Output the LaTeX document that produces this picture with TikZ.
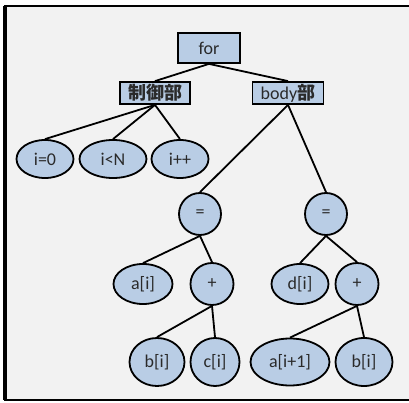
\documentclass[tikz,border=0pt]{standalone}
\usepackage{fontspec}
\setmainfont{Carlito}
\newfontfamily\cjk{Noto Sans CJK JP}
\usetikzlibrary{shapes.geometric}
\definecolor{panel}{HTML}{F2F2F2}
\definecolor{nodefill}{HTML}{B9CDE5}
\definecolor{ink}{HTML}{2A2A2A}
\tikzset{
  treebox/.style={draw=black, line width=1.8pt, fill=nodefill, text=ink,
    rectangle, inner sep=0pt, font=\fontsize{18}{20}\selectfont},
  treeoval/.style={draw=black, line width=1.8pt, fill=nodefill, text=ink,
    ellipse, inner sep=0pt, font=\fontsize{18}{20}\selectfont},
  branch/.style={draw=black, line width=1.8pt}
}
\begin{document}
\begin{tikzpicture}[x=1pt, y=-1pt]
  \useasboundingbox (0,0) rectangle (409,403);
  \fill[white] (0,0) rectangle (409,403);
  % framed panel, running off the right edge
  \begin{scope}
    \clip (0,0) rectangle (409,403);
    \filldraw[fill=panel, draw=black, line width=2.5pt] (5,6) rectangle (420,400);
    \draw[line width=4pt] (5,6) -- (5,400);
  \end{scope}

  % tree nodes
  \node[treebox, minimum width=62, minimum height=30] (for) at (209,48) {for};
  \node[treebox, minimum width=70, minimum height=22] (ctrl) at (155,93) {\cjk\bfseries 制御部};
  \node[treebox, minimum width=71, minimum height=22] (body) at (288,93) {body{\cjk\bfseries 部}};

  \node[treeoval, minimum width=57, minimum height=38] (init) at (45,159) {i=0};
  \node[treeoval, minimum width=67, minimum height=38] (cond) at (113,159) {i<N};
  \node[treeoval, minimum width=57, minimum height=38] (incr) at (180,159) {i++};

  \node[treeoval, minimum width=42, minimum height=42] (eqL) at (200,214) {=};
  \node[treeoval, minimum width=42, minimum height=42] (eqR) at (326,214) {=};

  \node[treeoval, minimum width=59, minimum height=40] (ai) at (143,284) {a[i]};
  \node[treeoval, minimum width=43, minimum height=42] (plusL) at (212,284) {+};
  \node[treeoval, minimum width=57, minimum height=40] (di) at (300,284) {d[i]};
  \node[treeoval, minimum width=43, minimum height=42] (plusR) at (357,284) {+};

  \node[treeoval, minimum width=55, minimum height=48] (biL) at (157,362) {b[i]};
  \node[treeoval, minimum width=49, minimum height=48] (ci) at (215,362) {c[i]};
  \node[treeoval, minimum width=79, minimum height=47] (aip) at (290,362) {a[i+1]};
  \node[treeoval, minimum width=57, minimum height=48] (biR) at (364,362) {b[i]};

  % branches
  \draw[branch] (for.south) -- (ctrl.north);
  \draw[branch] (for.south) -- (body.north);
  \draw[branch] (ctrl.south) -- (init.north);
  \draw[branch] (ctrl.south) -- (cond.north);
  \draw[branch] (ctrl.south) -- (incr.north);
  \draw[branch] (body.south) -- (eqL.north);
  \draw[branch] (body.south) -- (eqR.north);
  \draw[branch] (eqL.south) -- (ai.north);
  \draw[branch] (eqL.south) -- (plusL.north);
  \draw[branch] (eqR.south) -- (di.north);
  \draw[branch] (eqR.south) -- (plusR.north);
  \draw[branch] (plusL.south) -- (biL.north);
  \draw[branch] (plusL.south) -- (ci.north);
  \draw[branch] (plusR.south) -- (aip.north);
  \draw[branch] (plusR.south) -- (biR.north);
\end{tikzpicture}
\end{document}
